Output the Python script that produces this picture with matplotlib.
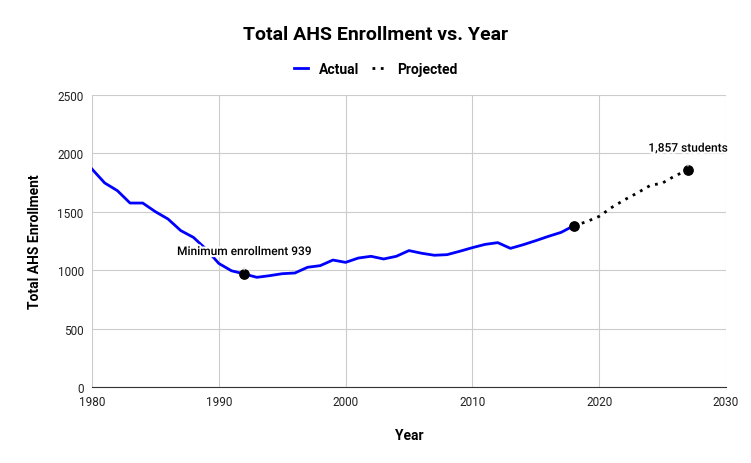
import matplotlib.pyplot as plt
import matplotlib.patheffects as pe

plt.rcParams['font.family'] = ['Roboto', 'DejaVu Sans']

actual_years = list(range(1980, 2019))
actual_values = [1866, 1747, 1681, 1575, 1575, 1501, 1438, 1339, 1281, 1180,
                 1058, 995, 968, 939, 953, 970, 976, 1025, 1039, 1087,
                 1067, 1104, 1119, 1096, 1119, 1168, 1145, 1128, 1133, 1162,
                 1193, 1221, 1236, 1187, 1218, 1253, 1290, 1324, 1381]

proj_years = list(range(2018, 2028))
proj_values = [1381, 1415, 1461, 1538, 1603, 1661, 1724, 1747, 1809, 1857]

min_year, min_value = 1992, 968
end_year, end_value = 2027, 1857

fig = plt.figure(figsize=(7.51, 4.64), dpi=100)
ax = fig.add_axes([0.1225, 0.1638, 0.8442, 0.6293])

ax.plot(actual_years, actual_values, color='#0000ff', lw=2, label='Actual', zorder=3)
ax.plot(proj_years, proj_values, color='black', lw=2, ls=(0, (1, 2)), label='Projected', zorder=3)

ax.scatter([min_year, 2018, end_year], [min_value, 1381, end_value], color='black', s=45, zorder=4)

halo = [pe.withStroke(linewidth=3, foreground='white')]
ax.annotate('Minimum enrollment 939', xy=(min_year, min_value), xytext=(min_year, 1160),
            ha='center', va='center', fontsize=8.6, fontweight='medium', zorder=5,
            path_effects=halo,
            arrowprops=dict(arrowstyle='-', color='#dddddd', lw=1, shrinkA=5, shrinkB=3))
ax.annotate('1,857 students', xy=(end_year, end_value), xytext=(end_year, 2045),
            ha='center', va='center', fontsize=8.6, fontweight='medium', zorder=5,
            path_effects=halo,
            arrowprops=dict(arrowstyle='-', color='#dddddd', lw=1, shrinkA=5, shrinkB=3))

ax.set_xlim(1980, 2030)
ax.set_ylim(0, 2500)
ax.set_xticks(range(1980, 2031, 10))
ax.set_yticks(range(0, 2501, 500))
ax.grid(color='#cccccc', lw=0.8)
ax.set_axisbelow(True)
for s in ['top', 'right', 'left']:
    ax.spines[s].set_visible(False)
ax.spines['bottom'].set_color('#333333')
ax.tick_params(length=0, labelsize=8.5, pad=6, colors='#222222')

ax.set_xlabel('Year', fontsize=10, fontweight='bold', labelpad=14)
ax.set_ylabel('Total AHS Enrollment', fontsize=10, fontweight='bold', labelpad=11)

fig.text(0.5, 0.924, 'Total AHS Enrollment vs. Year', ha='center', va='center',
         fontsize=14, fontweight='bold')
fig.legend(loc='center', bbox_to_anchor=(0.5, 0.849), ncol=2, frameon=False,
           handlelength=1.0, handletextpad=0.8, columnspacing=0.9,
           prop={'weight': 'bold', 'size': 10})

fig.savefig('out.png', dpi=100)
